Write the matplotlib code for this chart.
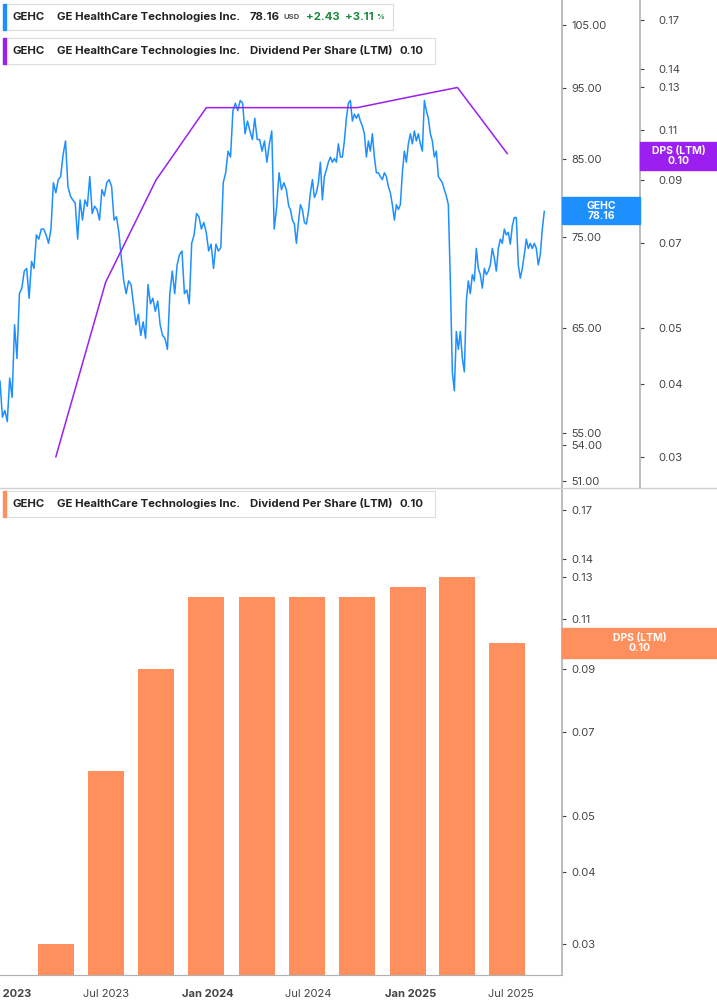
import numpy as np
import pandas as pd
import matplotlib.pyplot as plt
from matplotlib.ticker import FixedLocator, NullLocator, NullFormatter
import matplotlib.dates as mdates

# price in two stretches
price_a = [59.7,56.4,57,56,60,58.2,65.3,61.9,68.6,69.2,71.1,71.4,68.1,72.2,71.4,75.3,74.8,76,76,75.3,74.3,76,81.8,80.5,82.2,82.6,
           85.5,87.4,81.3,80.1,79.6,79.2,74.8,79.6,77.1,79.6,78.8,82.6,77.9,78.8,78.4,77.1,80.9,80.1,81.8,82.2,81.3,77.1,77.5,75.6,
           72.6,70,68.6,70,69.6,67.5,65.3,66.4,64.2,65.6,63.9,69.6,67.5,68.1,66.7,67.8,65.3,64.2,63.9,62.8,68.6,71.1,68.6,71.8,73,
           73.4,68.6,69,67.5,74.3,75.3,77.9,77.5,76,76.8,75.6,73.4,74.2,71.4,74.2,73.4,73.8,81.8,83.1,86,85.2,91.7,92.8,91.7,93.2,
           92.8,88.4,90.2,88.8,87.6,90.6,87.6,87.6,86,87.4,84.5,87,88.8,76,78.6,83.1,80.9,81.8,80.9,78.8]
price_b = [78.4,77.1,76.6,74.3,76.8,79,78.4,76.8,76.6,78.1,80.5,82.2,79.9,80.5,81.8,84.5,79.6,82.6,83.5,84.5,85.2,84.5,85,84.5,
           87,85.2,85.2,87.4,90.6,92.8,93.2,90.2,91.2,90.6,91.2,90.2,89.5,88.4,85.2,87.4,86,88.4,85.2,83.1,83.1,82.6,82.2,83.1,
           82.6,81.3,80.5,79,77.1,79,78.4,79,83.1,86,84.5,87,88.4,87,88.8,87.4,88.4,87,86,93.2,91.7,90.6,88.4,87.4,85.2,86,82.6,
           82.2,81.8,80.9,80.1,79,70,60.6,58.8,64.6,62.8,64.6,61.9,60.6,67.8,70,68.6,70.7,70,73.7,71.4,70.7,69.2,71.4,70.7,71.1,
           71.8,73.7,72.6,71.1,73.7,74.8,74.3,76,75.3,75.6,74.2,76.4,77.4,77.4,71.8,70.3,71.4,73,74.8,73.7,74.3,73.7,74.3,73.7,
           71.8,73,76,78.16]
dates_a = pd.date_range("2022-12-21", "2024-05-26", periods=len(price_a))
dates_b = pd.date_range("2024-05-29", "2025-08-31", periods=len(price_b))
price_dates = dates_a.append(dates_b)
prices = price_a + price_b

# dividend per share (LTM), quarter ends
dps_dates = pd.to_datetime(["2023-04-01", "2023-06-30", "2023-09-29", "2023-12-29", "2024-03-29",
                            "2024-06-28", "2024-09-27", "2024-12-27", "2025-03-27", "2025-06-25"])
dps = [0.03, 0.06, 0.09, 0.12, 0.12, 0.12, 0.12, 0.125, 0.13, 0.10]

price_ticks = [51, 54, 55, 65, 75, 85, 95, 105]
dps_ticks = [0.03, 0.04, 0.05, 0.07, 0.09, 0.11, 0.13, 0.14, 0.17]
x_ticks = ["2023-01-01", "2023-07-01", "2024-01-01", "2024-07-01", "2025-01-01", "2025-07-01"]
x_labels = ["Jan 2023", "Jul 2023", "Jan 2024", "Jul 2024", "Jan 2025", "Jul 2025"]

BLUE = "#1e8fff"
PURPLE = "#9b1ff0"
ORANGE = "#ff8f5c"
GREY = "#b0b0b0"
TXT = "#444444"

plt.rcParams["font.family"] = "Inter"
W, H = 717, 1005
fig = plt.figure(figsize=(W / 100, H / 100), dpi=100)
xlim = (pd.Timestamp("2022-12-21"), pd.Timestamp("2025-10-02"))
pw = 562 / W

def style(ax):
    for s in ["top", "left", "bottom"]:
        ax.spines[s].set_visible(False)
    ax.spines["right"].set_color(GREY)
    ax.spines["right"].set_linewidth(1.2)
    ax.set_xlim(*xlim)
    ax.yaxis.tick_right()
    ax.yaxis.set_minor_locator(NullLocator())
    ax.yaxis.set_minor_formatter(NullFormatter())
    ax.tick_params(axis="y", labelsize=8, colors=TXT, length=3, pad=4)

# top panel: price
ax = fig.add_axes([0, 1 - 488 / H, pw, 488 / H])
ax2 = ax.twinx()
ax.plot(price_dates, prices, color=BLUE, lw=1.1)
ax.set_yscale("log")
ax.set_ylim(50.4, 109.3)
style(ax)
ax.yaxis.set_major_locator(FixedLocator(price_ticks))
ax.set_yticklabels([f"{v:.2f}" for v in price_ticks])
ax.set_xticks([])

ax2.plot(dps_dates, dps, color=PURPLE, lw=1.1)
ax2.set_yscale("log")
ax2.set_ylim(0.0265, 0.184)
style(ax2)
ax2.spines["right"].set_position(("axes", 640 / 562))
ax2.yaxis.set_major_locator(FixedLocator(dps_ticks))
ax2.set_yticklabels([f"{v:.2f}" for v in dps_ticks])
ax2.tick_params(axis="y", pad=10)
ax2.set_xticks([])

# separator
fig.add_artist(plt.Line2D([0, 1], [1 - 488 / H] * 2, color="#d0d0d0", lw=1))

# bottom panel: bars
axb = fig.add_axes([0, 1 - 975 / H, pw, 487 / H])
axb.bar(dps_dates, dps, width=65, color=ORANGE)
axb.set_yscale("log")
axb.set_ylim(0.0265, 0.1856)
style(axb)
axb.yaxis.set_major_locator(FixedLocator(dps_ticks))
axb.set_yticklabels([f"{v:.2f}" for v in dps_ticks])
axb.set_xticks(pd.to_datetime(x_ticks))
axb.set_xticklabels(x_labels)
axb.tick_params(axis="x", labelsize=8, colors=TXT, length=0, pad=10)
for t in axb.get_xticklabels():
    if t.get_text().startswith("Jan"):
        t.set_fontweight("bold")
axb.spines["bottom"].set_visible(True)
axb.spines["bottom"].set_color(GREY)

# value tags
def tag(x0, x1, y0, y1, color, text):
    fig.patches.append(plt.Rectangle((x0 / W, 1 - y1 / H), (x1 - x0) / W, (y1 - y0) / H,
                                     transform=fig.transFigure, color=color, zorder=5))
    fig.text((x0 + x1) / 2 / W, 1 - (y0 + y1) / 2 / H, text, color="white", fontsize=7.5,
             fontweight="bold", ha="center", va="center", linespacing=1.0, zorder=6)

tag(562, 640, 197, 224, BLUE, "GEHC\n78.16")
tag(640, 717, 142, 170, PURPLE, "DPS (LTM)\n0.10")
tag(562, 717, 628, 658, ORANGE, "DPS (LTM)\n0.10")

# legend boxes
def legend(y, width, color, parts):
    fig.patches.append(plt.Rectangle((3 / W, 1 - (y + 13) / H), width / W, 26 / H, transform=fig.transFigure,
                                     facecolor="white", edgecolor="#dddddd", lw=0.8, zorder=5))
    fig.patches.append(plt.Rectangle((3 / W, 1 - (y + 13) / H), 3 / W, 26 / H, transform=fig.transFigure,
                                     color=color, zorder=6))
    for x, txt, size, col in parts:
        fig.text(x / W, 1 - y / H, txt, fontsize=size, fontweight="bold", color=col, va="center", zorder=7)

legend(17, 390, BLUE, [(13, "GEHC", 8.2, "#222222"), (57, "GE HealthCare Technologies Inc.", 8.2, "#222222"),
                       (250, "78.16", 8.2, "#222222"), (284, "USD", 5.5, "#555555"),
                       (306, "+2.43", 8.2, "#1a8a3a"), (345, "+3.11", 8.2, "#1a8a3a"), (376, "%", 5.5, "#1a8a3a")])
legend(51, 432, PURPLE, [(13, "GEHC", 8.2, "#222222"), (57, "GE HealthCare Technologies Inc.", 8.2, "#222222"),
                         (250, "Dividend Per Share (LTM)", 8.2, "#222222"), (400, "0.10", 8.2, "#222222")])
legend(504, 432, ORANGE, [(13, "GEHC", 8.2, "#222222"), (57, "GE HealthCare Technologies Inc.", 8.2, "#222222"),
                          (250, "Dividend Per Share (LTM)", 8.2, "#222222"), (400, "0.10", 8.2, "#222222")])

fig.savefig("out.png", dpi=100)
